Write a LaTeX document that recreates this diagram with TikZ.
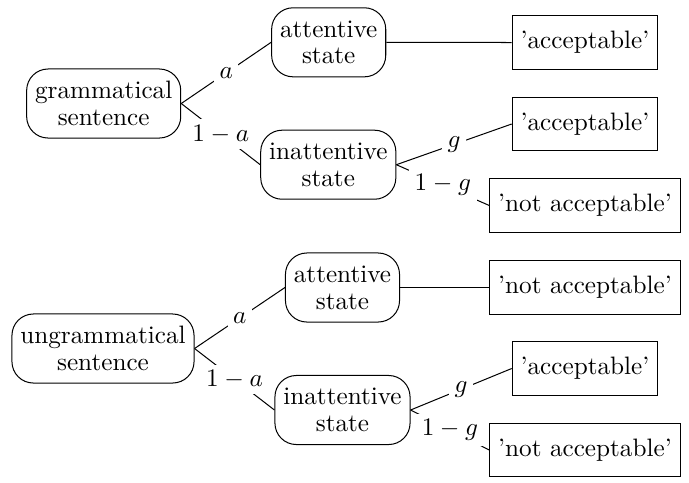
\documentclass[tikz,border=0pt]{standalone}
\begin{document}
\begin{tikzpicture}[x=0.3968pt,y=-0.3968pt,
  state/.style={draw,rounded corners=8.5pt,align=center,minimum height=27.4pt,
    font={\baselineskip=10.6pt}},
  outcome/.style={draw,minimum height=21.2pt},
  prob/.style={fill=white,inner sep=2.2pt,midway}]
\useasboundingbox (0,0) rectangle (689,482);
% top tree
\node[state] (g1) at (103.7,103.5) {grammatical\\sentence};
\node[state] (a1) at (328.7,42.3) {attentive\\state};
\node[state] (i1) at (328.3,164.7) {inattentive\\state};
\node[outcome] (o1) at (585,42.5) {'acceptable'};
\node[outcome] (o2) at (585,124) {'acceptable'};
\node[outcome] (o3) at (585,205.5) {'not acceptable'};
\draw (g1.east) -- node[prob] {$a$} (a1.west);
\draw (g1.east) -- node[prob] {$1-a$} (i1.west);
\draw (a1.east) -- (o1.west);
\draw (i1.east) -- node[prob] {$g$} (o2.west);
\draw (i1.east) -- node[prob] {$1-g$} (o3.west);
% bottom tree
\node[state] (g2) at (103,348.5) {ungrammatical\\sentence};
\node[state] (a2) at (342.5,287.5) {attentive\\state};
\node[state] (i2) at (342.5,410) {inattentive\\state};
\node[outcome] (o4) at (585,287.5) {'not acceptable'};
\node[outcome] (o5) at (585,368.5) {'acceptable'};
\node[outcome] (o6) at (585,450) {'not acceptable'};
\draw (g2.east) -- node[prob] {$a$} (a2.west);
\draw (g2.east) -- node[prob] {$1-a$} (i2.west);
\draw (a2.east) -- (o4.west);
\draw (i2.east) -- node[prob] {$g$} (o5.west);
\draw (i2.east) -- node[prob] {$1-g$} (o6.west);
\end{tikzpicture}
\end{document}
